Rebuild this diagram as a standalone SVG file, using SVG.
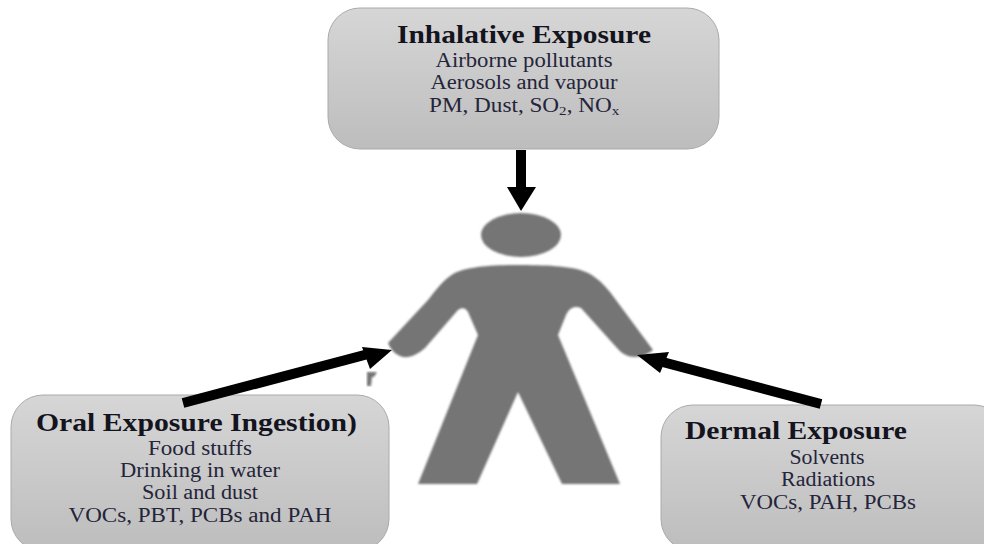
<svg xmlns="http://www.w3.org/2000/svg" width="984" height="544" viewBox="0 0 984 544">
<style>
text{font-family:"Liberation Serif","Times New Roman",serif;fill:#24243a}
.t{font-size:26px;font-weight:bold;fill:#14141e}
.b{font-size:20px}
.s{font-size:13px}
.box{fill:url(#g);stroke:#aaaaaa;stroke-width:1}
.fig{fill:#757575;filter:url(#soft)}
.a{stroke:#000;stroke-width:10;fill:none}
.h{fill:#000}
</style>
<defs>
<linearGradient id="g" x1="0" y1="0" x2="0" y2="1"><stop offset="0" stop-color="#d6d6d6"/><stop offset="1" stop-color="#bdbdbd"/></linearGradient>
<filter id="soft" x="-5%" y="-5%" width="110%" height="110%"><feGaussianBlur stdDeviation="0.8"/></filter>
</defs>
<rect width="984" height="544" fill="#fff"/>
<g id="figure">
<ellipse class="fig" cx="521" cy="235" rx="40" ry="22"/>
<path class="fig" d="M517 265C490 265 465 267 453 274C443 280 436 290 428 300L388 343C392 353 400 358 408 357C414 356 419 353 425 348L458 310C462 307 466 308 468 312L478 335L418 484H477L518 392L562 484H620L558 335L566 315C570 307 575 306 581 308L617 348C622 354 628 357 635 357C642 357 648 354 653 350L610 292C600 280 592 274 583 271C570 266 545 265 517 265Z"/>
<path class="fig" d="M367 372H377L374 377H372L371 386H367Z"/>
</g>
<g id="inhalative">
<rect class="box" x="328" y="8" width="391" height="141" rx="32"/>
<text class="t" x="524" y="43" text-anchor="middle" textLength="254" lengthAdjust="spacingAndGlyphs">Inhalative Exposure</text>
<text class="b" x="524" y="67" text-anchor="middle" textLength="177" lengthAdjust="spacingAndGlyphs">Airborne pollutants</text>
<text class="b" x="524" y="89" text-anchor="middle" textLength="187" lengthAdjust="spacingAndGlyphs">Aerosols and vapour</text>
<text class="b" transform="translate(429 112) scale(1.16 1)">PM, Dust, SO<tspan class="s" dy="3">2</tspan><tspan dy="-3">, NO</tspan><tspan class="s" dy="3">x</tspan></text>
</g>
<g id="oral">
<rect class="box" x="11" y="395" width="378" height="156" rx="32"/>
<text class="t" x="36" y="431" textLength="321" lengthAdjust="spacingAndGlyphs">Oral Exposure Ingestion)</text>
<text class="b" x="200" y="455" text-anchor="middle" textLength="104" lengthAdjust="spacingAndGlyphs">Food stuffs</text>
<text class="b" x="200" y="477" text-anchor="middle" textLength="160" lengthAdjust="spacingAndGlyphs">Drinking in water</text>
<text class="b" x="200" y="499" text-anchor="middle" textLength="116" lengthAdjust="spacingAndGlyphs">Soil and dust</text>
<text class="b" x="200" y="522" text-anchor="middle" textLength="263" lengthAdjust="spacingAndGlyphs">VOCs, PBT, PCBs and PAH</text>
</g>
<g id="dermal">
<rect class="box" x="661" y="405" width="345" height="146" rx="32"/>
<text class="t" x="685" y="439" textLength="222" lengthAdjust="spacingAndGlyphs">Dermal Exposure</text>
<text class="b" x="827" y="464" text-anchor="middle" textLength="75" lengthAdjust="spacingAndGlyphs">Solvents</text>
<text class="b" x="828" y="486" text-anchor="middle" textLength="94" lengthAdjust="spacingAndGlyphs">Radiations</text>
<text class="b" x="828" y="509" text-anchor="middle" textLength="176" lengthAdjust="spacingAndGlyphs">VOCs, PAH, PCBs</text>
</g>
<g id="connectors">
<path class="a" d="M521 150V190"/>
<path class="h" d="M507 187H536L521 211Z"/>
<path class="a" d="M183 403L372 353"/>
<path class="h" d="M392 350L362 347L370 369Z"/>
<path class="a" d="M821 404L655 360"/>
<path class="h" d="M637 355L669 352L660 373Z"/>
</g>
</svg>
